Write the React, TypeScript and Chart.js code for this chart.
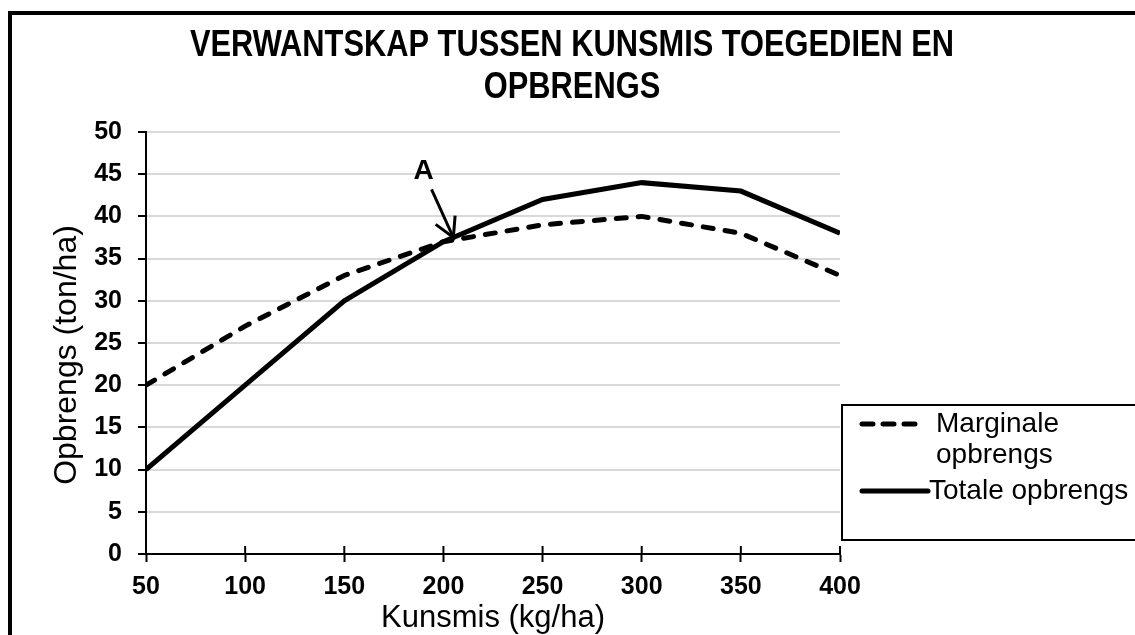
import React, { useEffect, useRef } from 'react';
import { Chart, registerables } from 'chart.js';

Chart.register(...registerables);

const titleLines = ['VERWANTSKAP TUSSEN KUNSMIS TOEGEDIEN EN', 'OPBRENGS'];
const xAxisTitle = 'Kunsmis (kg/ha)';
const yAxisTitle = 'Opbrengs (ton/ha)';
const kunsmis = [50, 100, 150, 200, 250, 300, 350, 400];
const marginaleOpbrengs = [20, 27, 33, 37, 39, 40, 38, 33];
const totaleOpbrengs = [10, 20, 30, 37, 42, 44, 43, 38];
const seriesLabels = ['Marginale opbrengs', 'Totale opbrengs'];
const yMin = 0;
const yMax = 50;
const yStep = 5;
const annotationText = 'A';
const annotationTip = { x: 205, y: 37.5 };
const annotationTail = { x: 194, y: 43.2 };
const annotationLabelAt = { x: 190, y: 45.4 };

const FONT = '"Liberation Sans", Arial, Helvetica, sans-serif';

const decorPlugin = {
  id: 'decor',
  beforeDraw(chart: any) {
    const ctx = chart.ctx;
    ctx.save();
    ctx.fillStyle = '#ffffff';
    ctx.fillRect(0, 0, chart.width, chart.height);
    ctx.restore();
  },
  afterDraw(chart: any) {
    const { ctx, chartArea, scales } = chart;
    const xs = scales.x;
    const ys = scales.y;
    ctx.save();

    // outer frame
    ctx.strokeStyle = '#000';
    ctx.lineWidth = 4;
    ctx.strokeRect(10, 13, chart.width + 60, chart.height + 60);

    // title (condensed bold)
    ctx.fillStyle = '#000';
    ctx.textAlign = 'center';
    ctx.textBaseline = 'middle';
    ctx.font = `bold 36px ${FONT}`;
    titleLines.forEach((t, i) => {
      ctx.save();
      ctx.translate(572, 46 + i * 42);
      ctx.scale(0.856, 1.05);
      ctx.fillText(t, 0, 0);
      ctx.restore();
    });

    // axis titles
    ctx.font = `31px ${FONT}`;
    ctx.fillText(xAxisTitle, (chartArea.left + chartArea.right) / 2, 618);
    ctx.save();
    ctx.translate(67, 355);
    ctx.rotate(-Math.PI / 2);
    ctx.font = `32px ${FONT}`;
    ctx.fillText(yAxisTitle, 0, 0);
    ctx.restore();

    // x tick marks crossing the axis (upper half)
    ctx.strokeStyle = '#000';
    ctx.lineWidth = 2;
    xs.ticks.forEach((t: any) => {
      const px = xs.getPixelForValue(t.value);
      ctx.beginPath();
      ctx.moveTo(px, chartArea.bottom - 8);
      ctx.lineTo(px, chartArea.bottom);
      ctx.stroke();
    });

    // annotation arrow
    const tipX = xs.getPixelForValue(annotationTip.x);
    const tipY = ys.getPixelForValue(annotationTip.y);
    const tailX = xs.getPixelForValue(annotationTail.x);
    const tailY = ys.getPixelForValue(annotationTail.y);
    ctx.lineWidth = 3;
    ctx.lineCap = 'butt';
    ctx.beginPath();
    ctx.moveTo(tailX, tailY);
    ctx.lineTo(tipX, tipY);
    ctx.stroke();
    const back = Math.atan2(tailY - tipY, tailX - tipX);
    const wing = 22;
    const spread = (29 * Math.PI) / 180;
    ctx.beginPath();
    ctx.moveTo(tipX + wing * Math.cos(back - spread), tipY + wing * Math.sin(back - spread));
    ctx.lineTo(tipX, tipY);
    ctx.lineTo(tipX + wing * Math.cos(back + spread), tipY + wing * Math.sin(back + spread));
    ctx.stroke();
    ctx.font = `bold 28px ${FONT}`;
    ctx.fillText(annotationText, xs.getPixelForValue(annotationLabelAt.x), ys.getPixelForValue(annotationLabelAt.y));

    // legend
    const boxL = 842;
    const boxT = 405;
    const boxB = 540;
    ctx.fillStyle = '#fff';
    ctx.fillRect(boxL, boxT, chart.width - boxL + 20, boxB - boxT);
    ctx.strokeStyle = '#000';
    ctx.lineWidth = 2;
    ctx.strokeRect(boxL, boxT, chart.width - boxL + 20, boxB - boxT);

    const ds = chart.data.datasets;
    ctx.font = `28px ${FONT}`;
    ctx.textAlign = 'left';
    ctx.fillStyle = '#000';
    const items = [
      { y: 424, x1: 862, x2: 920, tx: 936, dash: [11, 10] },
      { y: 491, x1: 862, x2: 928, tx: 929, dash: [] as number[] },
    ];
    items.forEach((it, i) => {
      ctx.save();
      ctx.strokeStyle = ds[i].borderColor;
      ctx.lineWidth = ds[i].borderWidth;
      ctx.lineCap = 'round';
      ctx.setLineDash(it.dash);
      ctx.beginPath();
      ctx.moveTo(it.x1, it.y);
      ctx.lineTo(it.x2, it.y);
      ctx.stroke();
      ctx.restore();
      // wrap label
      const maxW = chart.width - it.tx - 4;
      const words = String(ds[i].label).split(' ');
      const lines: string[] = [];
      let cur = '';
      words.forEach((w) => {
        const test = cur ? cur + ' ' + w : w;
        if (ctx.measureText(test).width > maxW && cur) {
          lines.push(cur);
          cur = w;
        } else cur = test;
      });
      if (cur) lines.push(cur);
      lines.forEach((l, j) => ctx.fillText(l, it.tx, it.y + j * 31));
    });

    ctx.restore();
  },
};

export default function App() {
  const ref = useRef<HTMLCanvasElement | null>(null);
  useEffect(() => {
    if (!ref.current) return;
    const chart = new Chart(ref.current, {
      type: 'line',
      data: {
        datasets: [
          {
            label: seriesLabels[0],
            data: kunsmis.map((x, i) => ({ x, y: marginaleOpbrengs[i] })),
            borderColor: '#000',
            borderWidth: 5,
            borderDash: [10, 12],
            borderCapStyle: 'round',
            pointRadius: 0,
            tension: 0,
            fill: false,
          },
          {
            label: seriesLabels[1],
            data: kunsmis.map((x, i) => ({ x, y: totaleOpbrengs[i] })),
            borderColor: '#000',
            borderWidth: 5,
            pointRadius: 0,
            tension: 0,
            fill: false,
          },
        ],
      },
      options: {
        animation: false,
        responsive: false,
        maintainAspectRatio: false,
        events: [],
        layout: { padding: { top: 132, right: 295, left: 0, bottom: 0 } },
        plugins: {
          legend: { display: false },
          title: { display: false },
          tooltip: { enabled: false },
        },
        scales: {
          x: {
            type: 'linear',
            min: kunsmis[0],
            max: kunsmis[kunsmis.length - 1],
            afterFit: (s: any) => {
              s.height = 81;
            },
            ticks: {
              stepSize: 50,
              color: '#000',
              font: { family: FONT, size: 25, weight: 'bold' },
              padding: 10,
              maxRotation: 0,
              autoSkip: false,
            },
            grid: {
              drawOnChartArea: false,
              drawTicks: true,
              tickLength: 8,
              tickColor: '#000',
              tickWidth: 2,
            },
            border: { color: '#000', width: 2 },
          },
          y: {
            min: yMin,
            max: yMax,
            afterFit: (s: any) => {
              s.width = 146;
            },
            ticks: {
              stepSize: yStep,
              color: '#000',
              font: { family: FONT, size: 25, weight: 'bold' },
              padding: 16,
            },
            grid: {
              color: '#d9d9d9',
              lineWidth: 2,
              tickLength: 8,
              tickColor: '#000',
              tickWidth: 2,
            },
            border: { color: '#000', width: 2 },
          },
        },
      },
      plugins: [decorPlugin],
    } as any);
    return () => chart.destroy();
  }, []);
  return (
    <div style={{ position: 'absolute', left: 0, top: 0, width: 1135, height: 635 }}>
      <canvas ref={ref} width={1135} height={635} style={{ display: 'block' }} />
    </div>
  );
}
